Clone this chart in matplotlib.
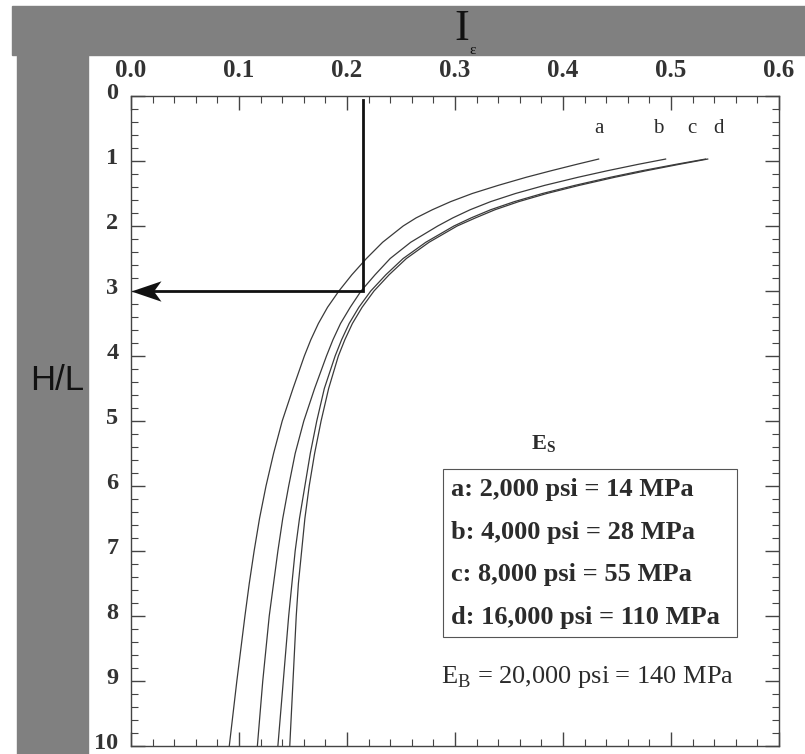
import matplotlib.pyplot as plt
from matplotlib.patches import Rectangle
from matplotlib.path import Path
from matplotlib.ticker import MultipleLocator
from matplotlib.transforms import ScaledTranslation

# H/L values where the curves were read
hl = [0.97, 1.05, 1.15, 1.25, 1.375, 1.5, 1.625, 1.75, 1.875, 2.0,
      2.25, 2.5, 2.75, 3.0, 3.25, 3.5, 3.75, 4.0, 4.5, 5.0,
      5.5, 6.0, 6.5, 7.0, 7.5, 8.0, 9.0, 10.0]

# I_eps for each subgrade modulus
ie_a = [0.433, 0.413, 0.389, 0.366, 0.340, 0.316, 0.296, 0.279, 0.264, 0.252,
        0.233, 0.218, 0.2045, 0.1925, 0.182, 0.1735, 0.1665, 0.1605, 0.150, 0.140,
        0.132, 0.125, 0.119, 0.114, 0.1095, 0.1055, 0.098, 0.091]
ie_b = [0.495, 0.470, 0.441, 0.414, 0.383, 0.356, 0.333, 0.314, 0.298, 0.284,
        0.259, 0.240, 0.226, 0.213, 0.203, 0.194, 0.187, 0.181, 0.170, 0.160,
        0.152, 0.146, 0.1405, 0.136, 0.132, 0.128, 0.122, 0.117]
ie_c = [0.532, 0.505, 0.473, 0.444, 0.411, 0.381, 0.355, 0.333, 0.315, 0.299,
        0.273, 0.252, 0.236, 0.222, 0.211, 0.202, 0.195, 0.189, 0.179, 0.172,
        0.166, 0.161, 0.156, 0.152, 0.149, 0.146, 0.141, 0.136]
ie_d = [0.534, 0.508, 0.477, 0.448, 0.415, 0.385, 0.359, 0.337, 0.319, 0.302,
        0.276, 0.255, 0.239, 0.225, 0.214, 0.205, 0.198, 0.192, 0.183, 0.176,
        0.170, 0.165, 0.161, 0.158, 0.155, 0.153, 0.150, 0.147]

curve_names = ['a', 'b', 'c', 'd']
curve_label_x = [0.433, 0.488, 0.519, 0.544]
legend_lines = ['a: 2,000 psi = 14 MPa', 'b: 4,000 psi = 28 MPa',
                'c: 8,000 psi = 55 MPa', 'd: 16,000 psi = 110 MPa']

# example reading shown by the arrow
read_ie = 0.215
read_hl = 3.0

serif = 'Liberation Serif'
ink = '#2b2b2b'

fig = plt.figure(figsize=(8.05, 7.54), dpi=100)
W, H = 805, 754

# gray bands around the plot
fig.patches.append(Rectangle((12 / W, 1 - 55 / H), 1 - 12 / W, 49 / H,
                             transform=fig.transFigure, color='#808080', zorder=0))
fig.patches.append(Rectangle((17 / W, 0), 71 / W, 1 - 55 / H,
                             transform=fig.transFigure, color='#808080', zorder=0))

ax = fig.add_axes([131 / W, 8 / H, 648 / W, 650 / H])

for ie in [ie_a, ie_b, ie_c, ie_d]:
    ax.plot(ie, hl, color='#3a3a3a', lw=0.9)

for name, x in zip(curve_names, curve_label_x):
    ax.text(x, 0.5, name, family=serif, fontsize=15, color=ink,
            ha='center', va='center')

# arrow reading, head is a concave (stealth) marker
ax.plot([read_ie, read_ie, 0.02], [0.06, read_hl, read_hl], color='#111111', lw=2.0,
        solid_joinstyle='miter')
stealth = Path([(-1, 0), (1, 0.68), (0.5, 0), (1, -0.68), (-1, 0)],
               [Path.MOVETO, Path.LINETO, Path.LINETO, Path.LINETO, Path.CLOSEPOLY])
ax.plot([15 / 1078], [read_hl], marker=stealth, markersize=21.6, color='#111111',
        markeredgewidth=0, clip_on=False)

# legend box
ax.add_patch(Rectangle((0.289, 5.74), 0.272, 2.58, fill=False,
                       edgecolor='#555555', lw=0.8))
ax.text(0.382, 5.36, r'E$_{\mathregular{S}}$', family=serif, fontsize=16,
        fontweight='bold', color=ink, ha='center', va='center')
for i, line in enumerate(legend_lines):
    ax.text(0.296, 6.06 + i * 0.653, line, family=serif, fontsize=19,
            fontweight='bold', color=ink, ha='left', va='center')
ax.text(0.423, 8.94, r'E$_{\mathregular{B}}$ = 20,000 psi = 140 MPa', family=serif,
        fontsize=19, color=ink, ha='center', va='center')

ax.set_xlim(0, 0.6)
ax.set_ylim(10, 0)
ax.xaxis.set_major_locator(MultipleLocator(0.1))
ax.xaxis.set_minor_locator(MultipleLocator(0.02))
ax.yaxis.set_major_locator(MultipleLocator(1))
ax.yaxis.set_minor_locator(MultipleLocator(0.2))
ax.xaxis.set_major_formatter(plt.FuncFormatter(lambda v, p: f'{v:.1f}'))
ax.xaxis.tick_top()
ax.tick_params(which='both', direction='in', top=True, bottom=True,
               left=True, right=True, color='#444444')
ax.tick_params(which='major', length=10, width=1)
ax.tick_params(which='minor', length=5, width=0.8)
ax.tick_params(axis='x', pad=10)
ax.tick_params(axis='y', pad=9)
for lab in ax.get_xticklabels():
    lab.set_fontsize(18)
for lab in ax.get_yticklabels():
    lab.set_fontsize(17.5)
for lab in ax.get_xticklabels() + ax.get_yticklabels():
    lab.set_family(serif)
    lab.set_fontweight('bold')
    lab.set_color('#333333')
lift = ScaledTranslation(0, 5 / 100, fig.dpi_scale_trans)
for lab in ax.get_yticklabels():
    lab.set_verticalalignment('center_baseline')
    lab.set_transform(lab.get_transform() + lift)
for s in ax.spines.values():
    s.set_color('#444444')
    s.set_linewidth(1.0)

# axis titles in the gray bands
fig.text(462 / W, 1 - 29 / H, 'I', family=serif, fontsize=32, color='#111111',
         ha='center', va='center')
fig.text(473 / W, 1 - 50 / H, 'ε', family=serif, fontsize=11, color='#111111',
         ha='center', va='center')
fig.text(57 / W, 1 - 380 / H, 'H/L', family='Liberation Sans', fontsize=25,
         color='#111111', ha='center', va='center')

fig.savefig('out.png', dpi=100)
